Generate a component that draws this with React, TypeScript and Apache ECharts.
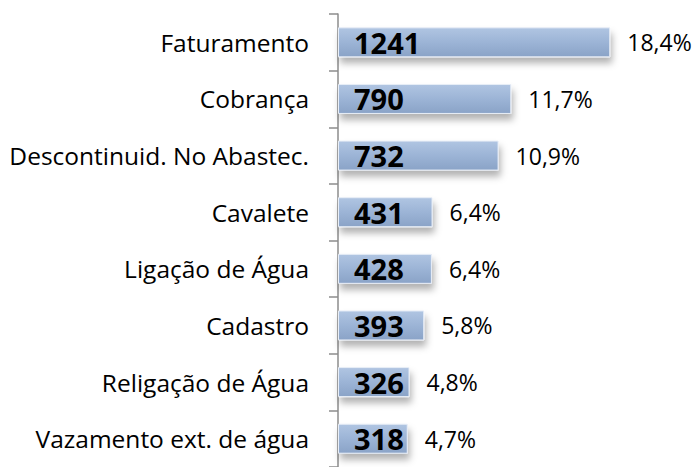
import React, { useEffect, useRef } from "react";
import * as echarts from "echarts";

const categories = [
  "Faturamento",
  "Cobrança",
  "Descontinuid. No Abastec.",
  "Cavalete",
  "Ligação de Água",
  "Cadastro",
  "Religação de Água",
  "Vazamento ext. de água",
];
const values = [1241, 790, 732, 431, 428, 393, 326, 318];
const percents = ["18,4%", "11,7%", "10,9%", "6,4%", "6,4%", "5,8%", "4,8%", "4,7%"];

const FONT = "'Open Sans', 'Noto Sans', sans-serif";

export default function App() {
  const ref = useRef<HTMLDivElement>(null);
  useEffect(() => {
    if (!ref.current) return;
    const chart = echarts.init(ref.current, undefined, { renderer: "svg" });
    chart.setOption({
      animation: false,
      backgroundColor: "#ffffff",
      grid: { left: 338, top: 14, width: 351, height: 461 },
      xAxis: {
        type: "value",
        min: 0,
        max: 1600,
        show: false,
      },
      yAxis: {
        type: "category",
        inverse: true,
        data: categories,
        axisLine: { show: true, lineStyle: { color: "#8c8c8c", width: 1.5 } },
        axisTick: { show: true, length: 9, lineStyle: { color: "#8c8c8c", width: 1.5 } },
        axisLabel: {
          margin: 29,
          color: "#000000",
          fontSize: 24.5,
          fontFamily: FONT,
        },
        splitLine: { show: false },
      },
      series: [
        {
          type: "bar",
          data: values,
          barWidth: 30,
          itemStyle: {
            color: new echarts.graphic.LinearGradient(0, 0, 0, 1, [
              { offset: 0, color: "#b0c5e2" },
              { offset: 0.5, color: "#9cb4d6" },
              { offset: 1, color: "#8aa3c7" },
            ]),
            borderColor: "#e8eef7",
            borderWidth: 1,
            shadowColor: "rgba(0,0,0,0.3)",
            shadowBlur: 7,
            shadowOffsetX: 2,
            shadowOffsetY: 6,
          },
          label: {
            show: true,
            position: "right",
            distance: 17,
            color: "#000000",
            fontSize: 23,
            fontFamily: FONT,
            formatter: (p: any) => percents[p.dataIndex],
          },
        },
        {
          type: "bar",
          data: values,
          barWidth: 30,
          barGap: "-100%",
          itemStyle: { color: "rgba(0,0,0,0)" },
          silent: true,
          label: {
            show: true,
            position: "insideLeft",
            distance: 16,
            color: "#000000",
            fontSize: 29,
            fontWeight: "bold",
            fontFamily: FONT,
            formatter: (p: any) => String(p.value),
          },
        },
      ],
    });
    return () => chart.dispose();
  }, []);
  return (
    <div
      ref={ref}
      style={{ position: "fixed", left: 0, top: 0, width: 696, height: 467 }}
    />
  );
}
